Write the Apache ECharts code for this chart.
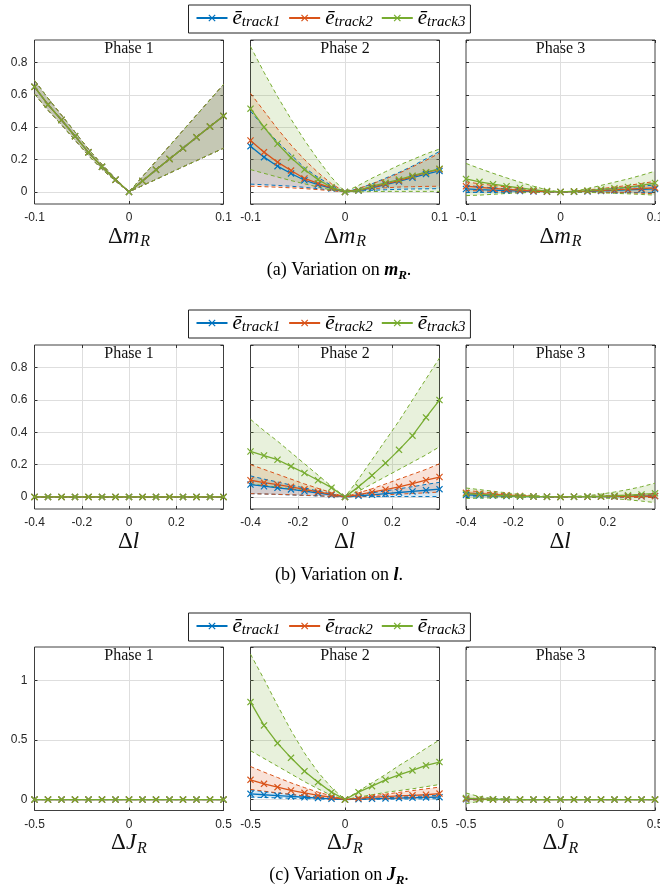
<!DOCTYPE html>
<html>
<head>
<meta charset="utf-8">
<script src="https://cdn.jsdelivr.net/npm/echarts@6/dist/echarts.min.js"></script>
<style>html,body{margin:0;padding:0;background:#fff}#c{width:660px;height:888px}</style>
</head>
<body>
<div id="c"></div>
<script>
// ---------- x grids (15 samples each) ----------
const X_M = [-0.1, -0.0857, -0.0714, -0.0571, -0.0429, -0.0286, -0.0143, 0, 0.0143, 0.0286, 0.0429, 0.0571, 0.0714, 0.0857, 0.1];
const X_L = [-0.4, -0.3429, -0.2857, -0.2286, -0.1714, -0.1143, -0.0571, 0, 0.0571, 0.1143, 0.1714, 0.2286, 0.2857, 0.3429, 0.4];
const X_J = [-0.5, -0.4286, -0.3571, -0.2857, -0.2143, -0.1429, -0.0714, 0, 0.0714, 0.1429, 0.2143, 0.2857, 0.3571, 0.4286, 0.5];
const ZERO = [0, 0, 0, 0, 0, 0, 0, 0, 0, 0, 0, 0, 0, 0, 0];

// ---------- (a) variation on m_R ----------
const MR1_MEAN = [0.65, 0.54, 0.445, 0.345, 0.245, 0.155, 0.075, 0, 0.068, 0.137, 0.204, 0.27, 0.338, 0.404, 0.47];
const MR1_UP   = [0.69, 0.58, 0.475, 0.37, 0.265, 0.17, 0.083, 0, 0.095, 0.19, 0.285, 0.38, 0.475, 0.57, 0.665];
const MR1_LO   = [0.605, 0.505, 0.415, 0.32, 0.225, 0.14, 0.067, 0, 0.039, 0.077, 0.116, 0.155, 0.193, 0.232, 0.27];

const MR2_T1_MEAN = [0.283, 0.215, 0.159, 0.114, 0.072, 0.045, 0.021, 0, 0.008, 0.025, 0.045, 0.065, 0.088, 0.11, 0.13];
const MR2_T1_UP   = [0.50, 0.40, 0.31, 0.23, 0.15, 0.09, 0.04, 0, 0.02, 0.05, 0.085, 0.12, 0.16, 0.205, 0.25];
const MR2_T1_LO   = [0.048, 0.044, 0.04, 0.035, 0.028, 0.02, 0.01, 0, 0.005, 0.01, 0.013, 0.016, 0.018, 0.019, 0.02];
const MR2_T2_MEAN = [0.318, 0.246, 0.184, 0.132, 0.083, 0.052, 0.025, 0, 0.01, 0.03, 0.05, 0.07, 0.095, 0.12, 0.14];
const MR2_T2_UP   = [0.61, 0.50, 0.39, 0.29, 0.20, 0.12, 0.05, 0, 0.02, 0.05, 0.08, 0.115, 0.155, 0.195, 0.24];
const MR2_T2_LO   = [0.035, 0.032, 0.029, 0.025, 0.02, 0.014, 0.007, 0, 0.01, 0.02, 0.025, 0.03, 0.032, 0.034, 0.035];
const MR2_T3_MEAN = [0.515, 0.401, 0.298, 0.211, 0.138, 0.076, 0.029, 0, 0.01, 0.035, 0.056, 0.076, 0.10, 0.122, 0.143];
const MR2_T3_UP   = [0.90, 0.74, 0.59, 0.45, 0.32, 0.20, 0.09, 0, 0.04, 0.085, 0.125, 0.165, 0.2, 0.235, 0.265];
const MR2_T3_LO   = [0.138, 0.115, 0.092, 0.07, 0.05, 0.03, 0.012, 0, 0, 0.002, 0.003, 0.003, 0.003, 0.003, 0.003];

const MR3_T1_MEAN = [0.018, 0.014, 0.011, 0.008, 0.005, 0.003, 0.001, 0, 0.001, 0.003, 0.006, 0.009, 0.012, 0.015, 0.018];
const MR3_T1_UP   = [0.04, 0.032, 0.025, 0.018, 0.012, 0.007, 0.003, 0, 0.003, 0.008, 0.014, 0.02, 0.027, 0.035, 0.043];
const MR3_T1_LO   = [-0.004, -0.003, -0.003, -0.002, -0.001, -0.001, 0, 0, -0.001, -0.002, -0.002, -0.002, -0.003, -0.004, -0.006];
const MR3_T2_MEAN = [0.035, 0.028, 0.022, 0.016, 0.01, 0.005, 0.002, 0, 0.002, 0.005, 0.009, 0.013, 0.017, 0.021, 0.025];
const MR3_T2_UP   = [0.062, 0.05, 0.04, 0.03, 0.02, 0.011, 0.004, 0, 0.005, 0.012, 0.02, 0.03, 0.04, 0.052, 0.065];
const MR3_T2_LO   = [0.008, 0.006, 0.004, 0.002, 0.001, 0, 0, 0, 0, -0.002, -0.002, -0.004, -0.006, -0.008, -0.012];
const MR3_T3_MEAN = [0.08, 0.062, 0.048, 0.035, 0.024, 0.014, 0.005, 0, 0.003, 0.008, 0.015, 0.022, 0.03, 0.04, 0.055];
const MR3_T3_UP   = [0.176, 0.145, 0.115, 0.087, 0.06, 0.035, 0.012, 0, 0.005, 0.02, 0.04, 0.06, 0.08, 0.103, 0.128];
const MR3_T3_LO   = [-0.023, -0.02, -0.015, -0.01, -0.006, -0.003, -0.001, 0, -0.001, -0.003, -0.006, -0.009, -0.012, -0.016, -0.02];

// ---------- (b) variation on l ----------
const L2_T1_MEAN = [0.076, 0.066, 0.056, 0.046, 0.035, 0.024, 0.012, 0, 0.007, 0.013, 0.02, 0.027, 0.034, 0.041, 0.048];
const L2_T1_UP   = [0.13, 0.11, 0.092, 0.073, 0.055, 0.036, 0.018, 0, 0.012, 0.025, 0.037, 0.05, 0.063, 0.077, 0.09];
const L2_T1_LO   = [0.02, 0.018, 0.015, 0.012, 0.009, 0.006, 0.003, 0, 0.002, 0.002, 0.002, 0.002, 0.002, 0.002, 0.002];
const L2_T2_MEAN = [0.103, 0.088, 0.076, 0.062, 0.047, 0.031, 0.016, 0, 0.014, 0.029, 0.045, 0.062, 0.082, 0.103, 0.123];
const L2_T2_UP   = [0.2, 0.17, 0.14, 0.11, 0.08, 0.053, 0.026, 0, 0.025, 0.05, 0.08, 0.11, 0.14, 0.17, 0.205];
const L2_T2_LO   = [0.02, 0.018, 0.016, 0.013, 0.01, 0.007, 0.003, 0, 0.004, 0.008, 0.013, 0.017, 0.021, 0.025, 0.03];
const L2_T3_MEAN = [0.281, 0.256, 0.23, 0.189, 0.148, 0.103, 0.057, 0, 0.062, 0.133, 0.209, 0.291, 0.379, 0.492, 0.599];
const L2_T3_UP   = [0.48, 0.41, 0.345, 0.275, 0.205, 0.135, 0.065, 0, 0.11, 0.23, 0.35, 0.47, 0.6, 0.73, 0.86];
const L2_T3_LO   = [0.08, 0.07, 0.06, 0.05, 0.04, 0.028, 0.014, 0, 0.035, 0.08, 0.125, 0.17, 0.215, 0.26, 0.31];

const L3_T1_MEAN = [0.012, 0.01, 0.008, 0.005, 0.003, 0.002, 0.001, 0, 0.001, 0.001, 0.002, 0.002, 0.003, 0.004, 0.005];
const L3_T1_UP   = [0.025, 0.02, 0.015, 0.01, 0.006, 0.003, 0.001, 0, 0.002, 0.003, 0.004, 0.006, 0.008, 0.01, 0.012];
const L3_T1_LO   = [0, 0, 0, 0, 0, 0, 0, 0, 0, 0, 0, -0.001, -0.001, -0.002, -0.002];
const L3_T2_MEAN = [0.025, 0.02, 0.015, 0.01, 0.006, 0.003, 0.001, 0, 0.001, 0.001, 0.002, 0.003, 0.003, 0.004, 0.005];
const L3_T2_UP   = [0.04, 0.032, 0.025, 0.018, 0.011, 0.006, 0.002, 0, 0.002, 0.004, 0.006, 0.008, 0.01, 0.012, 0.014];
const L3_T2_LO   = [0.01, 0.008, 0.006, 0.004, 0.002, 0.001, 0, 0, 0, 0, 0, -0.001, -0.002, -0.003, -0.004];
const L3_T3_MEAN = [0.02, 0.015, 0.01, 0.007, 0.004, 0.002, 0.001, 0, 0.001, 0.002, 0.004, 0.007, 0.01, 0.015, 0.022];
const L3_T3_UP   = [0.055, 0.045, 0.035, 0.025, 0.015, 0.008, 0.003, 0, 0.003, 0.008, 0.017, 0.03, 0.045, 0.063, 0.085];
const L3_T3_LO   = [-0.01, -0.008, -0.006, -0.004, -0.002, -0.001, 0, 0, 0, -0.002, -0.006, -0.011, -0.018, -0.026, -0.035];

// ---------- (c) variation on J_R ----------
const J2_T1_MEAN = [0.048, 0.04, 0.033, 0.026, 0.019, 0.012, 0.006, 0, 0.003, 0.006, 0.009, 0.012, 0.015, 0.018, 0.02];
const J2_T1_UP   = [0.08, 0.066, 0.054, 0.042, 0.03, 0.019, 0.009, 0, 0.005, 0.01, 0.015, 0.02, 0.025, 0.03, 0.035];
const J2_T1_LO   = [0.02, 0.017, 0.014, 0.011, 0.008, 0.005, 0.002, 0, 0.001, 0.002, 0.003, 0.004, 0.005, 0.006, 0.007];
const J2_T2_MEAN = [0.165, 0.132, 0.104, 0.076, 0.056, 0.034, 0.02, 0, 0.01, 0.02, 0.025, 0.03, 0.035, 0.04, 0.05];
const J2_T2_UP   = [0.277, 0.23, 0.185, 0.14, 0.1, 0.062, 0.03, 0, 0.015, 0.03, 0.045, 0.06, 0.075, 0.09, 0.104];
const J2_T2_LO   = [0.085, 0.07, 0.056, 0.043, 0.03, 0.018, 0.008, 0, 0.005, 0.008, 0.011, 0.014, 0.017, 0.019, 0.021];
const J2_T3_MEAN = [0.818, 0.622, 0.473, 0.35, 0.238, 0.146, 0.062, 0, 0.062, 0.112, 0.165, 0.207, 0.244, 0.286, 0.314];
const J2_T3_UP   = [1.22, 1.01, 0.79, 0.58, 0.39, 0.23, 0.1, 0, 0.07, 0.14, 0.21, 0.285, 0.355, 0.43, 0.5];
const J2_T3_LO   = [0.41, 0.345, 0.28, 0.215, 0.15, 0.09, 0.035, 0, 0.02, 0.04, 0.06, 0.075, 0.09, 0.108, 0.126];

const J3_T1_MEAN = [0.003, 0.002, 0.001, 0, 0, 0, 0, 0, 0, 0, 0, 0, 0, 0, 0];
const J3_T1_UP   = [0.008, 0.004, 0.002, 0.001, 0, 0, 0, 0, 0, 0, 0, 0, 0, 0, 0];
const J3_T1_LO   = [-0.003, -0.001, 0, 0, 0, 0, 0, 0, 0, 0, 0, 0, 0, 0, 0];
const J3_T2_MEAN = [0.006, 0.003, 0.001, 0, 0, 0, 0, 0, 0, 0, 0, 0, 0, 0, 0];
const J3_T2_UP   = [0.015, 0.007, 0.003, 0.001, 0, 0, 0, 0, 0, 0, 0, 0, 0, 0, 0];
const J3_T2_LO   = [-0.004, -0.002, -0.001, 0, 0, 0, 0, 0, 0, 0, 0, 0, 0, 0, 0];
const J3_T3_MEAN = [0.012, 0.005, 0.002, 0.001, 0, 0, 0, 0, 0, 0, 0, 0, 0, 0, 0];
const J3_T3_UP   = [0.055, 0.024, 0.009, 0.003, 0.001, 0, 0, 0, 0, 0, 0, 0, 0, 0, 0];
const J3_T3_LO   = [-0.035, -0.014, -0.005, -0.002, -0.001, 0, 0, 0, 0, 0, 0, 0, 0, 0, 0];

const TRACKS = ['track1', 'track2', 'track3'];
const PHASES = ['Phase 1', 'Phase 2', 'Phase 3'];
const COLORS = ['#0072BD', '#D95319', '#77AC30'];

// ---------- layout ----------
const COL_LEFT = [34.5, 250.5, 466];
const PW = 189;
const SERIF = '"Liberation Serif", "Times New Roman", serif';
const SANS = '"Liberation Sans", Arial, sans-serif';

const ROWS = [
  { x: X_M, top: 40, h: 164, xmin: -0.1, xmax: 0.1, xint: 0.1, ymin: -0.075, ymax: 0.94, ysplit: 5, showMaxX: true,
    name: '{d|Δ}{v|m}{s|R}', legendTop: 5,
    caption: '{n|(a) Variation on }{v|m}{s|R}{n|.}', capY: 269 },
  { x: X_L, top: 345, h: 164, xmin: -0.4, xmax: 0.4, xint: 0.2, ymin: -0.075, ymax: 0.94, ysplit: 5, showMaxX: false,
    name: '{d|Δ}{v|l}', legendTop: 310,
    caption: '{n|(b) Variation on }{v|l}{n|.}', capY: 574 },
  { x: X_J, top: 647, h: 163.5, xmin: -0.5, xmax: 0.5, xint: 0.5, ymin: -0.092, ymax: 1.28, ysplit: 3, showMaxX: true,
    name: '{d|Δ}{v|J}{s|R}', legendTop: 613,
    caption: '{n|(c) Variation on }{v|J}{s|R}{n|.}', capY: 874 }
];

const PANELS = [
  { row: 0, col: 0, t: [[MR1_MEAN, MR1_UP, MR1_LO], [MR1_MEAN, MR1_UP, MR1_LO], [MR1_MEAN, MR1_UP, MR1_LO]] },
  { row: 0, col: 1, t: [[MR2_T1_MEAN, MR2_T1_UP, MR2_T1_LO], [MR2_T2_MEAN, MR2_T2_UP, MR2_T2_LO], [MR2_T3_MEAN, MR2_T3_UP, MR2_T3_LO]] },
  { row: 0, col: 2, t: [[MR3_T1_MEAN, MR3_T1_UP, MR3_T1_LO], [MR3_T2_MEAN, MR3_T2_UP, MR3_T2_LO], [MR3_T3_MEAN, MR3_T3_UP, MR3_T3_LO]] },
  { row: 1, col: 0, t: [[ZERO, ZERO, ZERO], [ZERO, ZERO, ZERO], [ZERO, ZERO, ZERO]] },
  { row: 1, col: 1, t: [[L2_T1_MEAN, L2_T1_UP, L2_T1_LO], [L2_T2_MEAN, L2_T2_UP, L2_T2_LO], [L2_T3_MEAN, L2_T3_UP, L2_T3_LO]] },
  { row: 1, col: 2, t: [[L3_T1_MEAN, L3_T1_UP, L3_T1_LO], [L3_T2_MEAN, L3_T2_UP, L3_T2_LO], [L3_T3_MEAN, L3_T3_UP, L3_T3_LO]] },
  { row: 2, col: 0, t: [[ZERO, ZERO, ZERO], [ZERO, ZERO, ZERO], [ZERO, ZERO, ZERO]] },
  { row: 2, col: 1, t: [[J2_T1_MEAN, J2_T1_UP, J2_T1_LO], [J2_T2_MEAN, J2_T2_UP, J2_T2_LO], [J2_T3_MEAN, J2_T3_UP, J2_T3_LO]] },
  { row: 2, col: 2, t: [[J3_T1_MEAN, J3_T1_UP, J3_T1_LO], [J3_T2_MEAN, J3_T2_UP, J3_T2_LO], [J3_T3_MEAN, J3_T3_UP, J3_T3_LO]] }
];

const XMARK = 'path://M0,1.2L1.2,0L5,3.8L8.8,0L10,1.2L6.2,5L10,8.8L8.8,10L5,6.2L1.2,10L0,8.8L3.8,5Z';

const NAME_RICH = {
  d: { fontFamily: SERIF, fontSize: 23, color: '#111', lineHeight: 25, verticalAlign: 'bottom', padding: [0, 0, 2, 0] },
  v: { fontFamily: SERIF, fontStyle: 'italic', fontSize: 23, color: '#111', lineHeight: 25, verticalAlign: 'bottom', padding: [0, 1, 2, 0] },
  s: { fontFamily: SERIF, fontStyle: 'italic', fontSize: 16, color: '#111', lineHeight: 17, verticalAlign: 'bottom' }
};

const TICK = { show: true, inside: true, length: 3, lineStyle: { color: '#303030' } };
const GRIDLINE = { show: true, showMinLine: false, showMaxLine: false, lineStyle: { color: '#dedede', width: 1 } };

const grid = [], xAxis = [], yAxis = [], series = [];
PANELS.forEach((p, gi) => {
  const r = ROWS[p.row];
  grid.push({ left: COL_LEFT[p.col], top: r.top, width: PW, height: r.h, show: true,
    outerBoundsMode: 'none', containLabel: false,
    borderColor: '#404040', borderWidth: 1, backgroundColor: '#fff' });
  xAxis.push({ gridIndex: gi, type: 'value', position: 'bottom', min: r.xmin, max: r.xmax, interval: r.xint,
    axisLine: { show: false, onZero: false }, axisTick: TICK,
    axisLabel: { margin: 8, fontSize: 12, fontFamily: SANS, color: '#262626', showMinLabel: true, showMaxLabel: r.showMaxX, hideOverlap: false },
    splitLine: GRIDLINE,
    name: r.name, nameLocation: 'middle', nameGap: 21, nameTextStyle: { rich: NAME_RICH } });
  yAxis.push({ gridIndex: gi, type: 'value', position: 'left', min: r.ymin, max: r.ymax, splitNumber: r.ysplit,
    axisLine: { show: false, onZero: false }, axisTick: TICK,
    axisLabel: { show: p.col === 0, showMinLabel: false, showMaxLabel: false, margin: 7, fontSize: 12, fontFamily: SANS, color: '#262626' },
    splitLine: GRIDLINE });
});
// mirrored ticks on top / right edges
PANELS.forEach((p, gi) => {
  const r = ROWS[p.row];
  xAxis.push({ gridIndex: gi, type: 'value', position: 'top', min: r.xmin, max: r.xmax, interval: r.xint,
    axisLine: { show: false, onZero: false }, axisTick: TICK, axisLabel: { show: false }, splitLine: { show: false } });
  yAxis.push({ gridIndex: gi, type: 'value', position: 'right', min: r.ymin, max: r.ymax, splitNumber: r.ysplit,
    axisLine: { show: false, onZero: false }, axisTick: TICK, axisLabel: { show: false }, splitLine: { show: false } });
});

function bandSeries(gi, X, up, lo, c) {
  return {
    type: 'custom', xAxisIndex: gi, yAxisIndex: gi, silent: true, z: 1,
    data: X.map((x, i) => [x, lo[i], up[i]]),
    encode: { x: 0, y: [1, 2] },
    renderItem: function (params, api) {
      if (params.dataIndex !== 0) return null;
      const pts = [];
      for (let i = 0; i < X.length; i++) pts.push(api.coord([X[i], up[i]]));
      for (let i = X.length - 1; i >= 0; i--) pts.push(api.coord([X[i], lo[i]]));
      return { type: 'polygon', shape: { points: pts }, style: { fill: c, opacity: 0.17 } };
    }
  };
}
function dashSeries(gi, X, vals, c) {
  return { type: 'line', xAxisIndex: gi, yAxisIndex: gi, silent: true, z: 2,
    data: X.map((x, i) => [x, vals[i]]), symbol: 'none',
    lineStyle: { color: c, width: 1, type: [4, 3] } };
}

PANELS.forEach((p, gi) => {
  const X = ROWS[p.row].x;
  p.t.forEach((tr, ti) => series.push(bandSeries(gi, X, tr[1], tr[2], COLORS[ti])));
  p.t.forEach((tr, ti) => {
    series.push(dashSeries(gi, X, tr[1], COLORS[ti]));
    series.push(dashSeries(gi, X, tr[2], COLORS[ti]));
  });
  p.t.forEach((tr, ti) => {
    const c = COLORS[ti];
    series.push({ type: 'line', name: TRACKS[ti], xAxisIndex: gi, yAxisIndex: gi, z: 3,
      data: X.map((x, i) => [x, tr[0][i]]),
      symbol: XMARK, symbolSize: 7,
      lineStyle: { color: c, width: 1.3 }, itemStyle: { color: c } });
  });
});

const LEG_RICH = {
  e: { fontFamily: SERIF, fontStyle: 'italic', fontSize: 21, color: '#000', lineHeight: 24, verticalAlign: 'bottom', padding: [0, 0, 1, 0] },
  s: { fontFamily: SERIF, fontStyle: 'italic', fontSize: 15, color: '#000', lineHeight: 16, verticalAlign: 'bottom' }
};
const legend = ROWS.map(r => ({
  data: TRACKS, left: 188.5, top: r.legendTop, orient: 'horizontal', selectedMode: false,
  itemWidth: 31, itemHeight: 9, itemGap: 8,
  padding: [3, 5, 3, 7],
  borderColor: '#222', borderWidth: 1, backgroundColor: '#fff',
  formatter: n => '{e|ē}{s|' + n + '}',
  textStyle: { rich: LEG_RICH }
}));

const graphic = [];
PANELS.forEach(p => {
  graphic.push({ type: 'text', z: 100, x: COL_LEFT[p.col] + PW / 2, y: ROWS[p.row].top + 9,
    style: { text: PHASES[p.col], font: '16px ' + SERIF, fill: '#111', align: 'center', verticalAlign: 'middle' } });
});
const CAP_RICH = {
  n: { fontFamily: SERIF, fontSize: 18, color: '#000', lineHeight: 20, verticalAlign: 'bottom' },
  v: { fontFamily: SERIF, fontStyle: 'italic', fontWeight: 'bold', fontSize: 18, color: '#000', lineHeight: 20, verticalAlign: 'bottom' },
  s: { fontFamily: SERIF, fontStyle: 'italic', fontWeight: 'bold', fontSize: 13, color: '#000', lineHeight: 16, verticalAlign: 'bottom', padding: [0, 0, -3, 0] }
};
ROWS.forEach(r => {
  graphic.push({ type: 'text', z: 100, x: 339, y: r.capY,
    style: { text: r.caption, rich: CAP_RICH, align: 'center', verticalAlign: 'middle' } });
});

const chart = echarts.init(document.getElementById('c'), null, { renderer: 'canvas' });
chart.setOption({
  animation: false,
  backgroundColor: '#fff',
  grid, xAxis, yAxis, series, legend, graphic
});
</script>
</body>
</html>
